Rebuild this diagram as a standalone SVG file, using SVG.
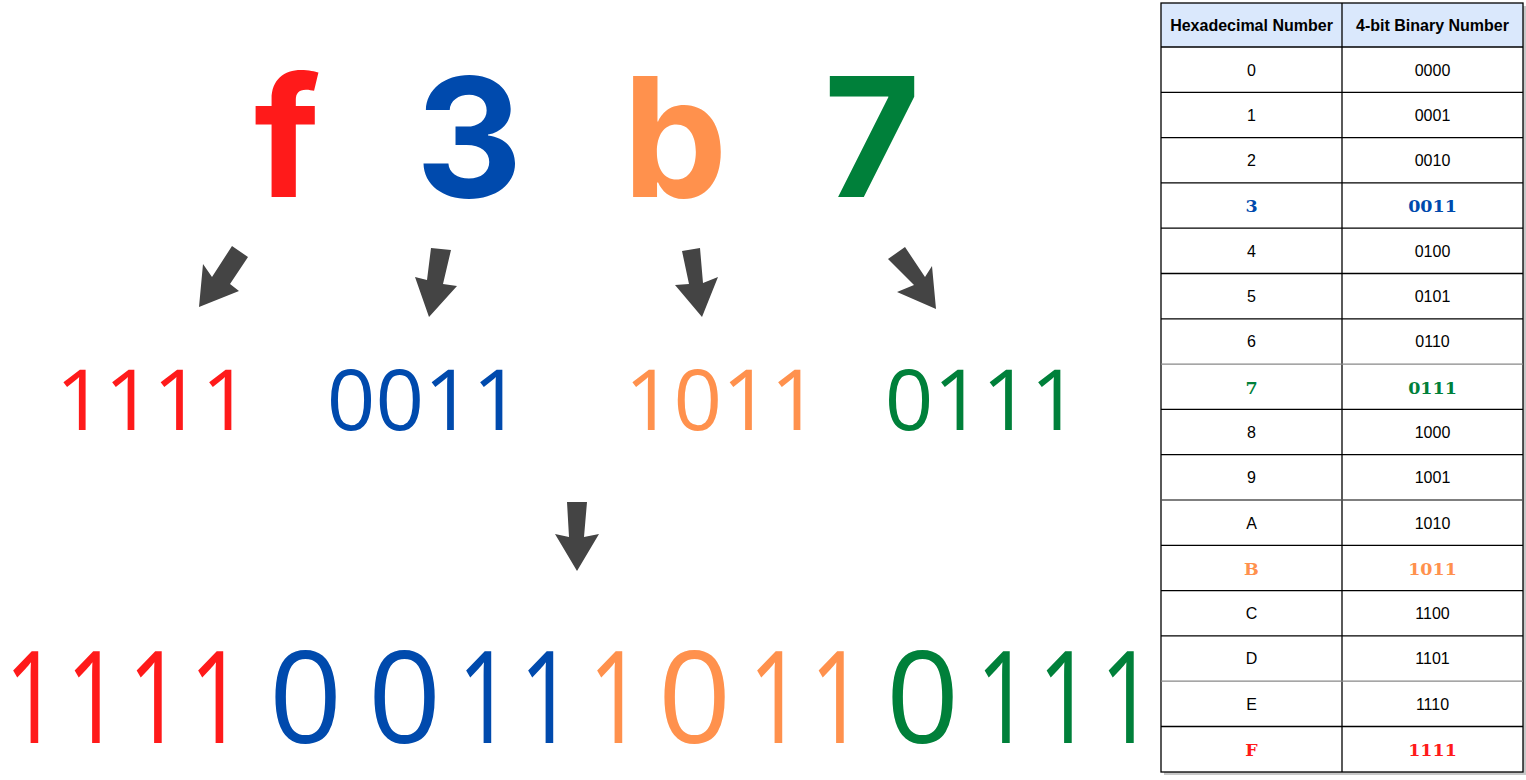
<svg xmlns="http://www.w3.org/2000/svg" width="1526" height="780" viewBox="0 0 1526 780">
<style>
.big{font-family:Inter,"Liberation Sans",sans-serif;font-weight:700;font-size:166px;text-anchor:middle}
.mid{font-family:"Open Sans","Noto Sans",sans-serif;font-size:85px;text-anchor:middle}
.bot{font-family:"Open Sans","Noto Sans",sans-serif;font-size:128px;text-anchor:middle}
.r{fill:#ff1a1a}.b{fill:#004aad}.o{fill:#ff914d}.g{fill:#00803a}
.arrow{fill:#444444}
.hd{font-family:"Liberation Sans",Arial,sans-serif;font-weight:bold;font-size:16px;text-anchor:middle;fill:#000}
.td{font-family:"Liberation Sans",Arial,sans-serif;font-size:16px;text-anchor:middle;fill:#000}
.tc{font-family:"DejaVu Serif","Liberation Serif",serif;font-weight:bold;font-size:17.5px;text-anchor:middle}
.grid{stroke:#000;stroke-width:1.3;fill:none}
</style>
<rect width="1526" height="780" fill="#ffffff"/>

<g id="hex-digits">
<text class="big r" x="287" y="197">f</text>
<text class="big b" x="469" y="197">3</text>
<text class="big o" x="675" y="197">b</text>
<text class="big g" x="872" y="197">7</text>
</g>

<g id="connectors">
<polygon class="arrow" points="232,246 248,257 230,284 239,291 199,307 203,264 212,277"/>
<polygon class="arrow" points="431,248 451,250 443,284 457,286 429,317 415,277 427,280"/>
<polygon class="arrow" points="682,251 700,248 703,283 718,277 702,317 675,285 689,284"/>
<polygon class="arrow" points="888,259 905,247 925,277 932,266 936,309 897,292 914,285"/>
<polygon class="arrow" points="567,502 587,502 584,537 599,534 577,571 555,534 569,537"/>
</g>

<g id="nibbles">
<text class="mid r" x="153" y="430">1111</text>
<text class="mid b" x="424" y="430">0011</text>
<text class="mid o" x="722" y="430">1011</text>
<text class="mid g" x="982" y="430">0111</text>
</g>

<g id="binary-result">
<text class="bot r" transform="translate(32,0) scale(0.75,1)" x="0" y="743">1</text>
<text class="bot r" transform="translate(93.5,0) scale(0.75,1)" x="0" y="743">1</text>
<text class="bot r" transform="translate(155.5,0) scale(0.75,1)" x="0" y="743">1</text>
<text class="bot r" transform="translate(217,0) scale(0.75,1)" x="0" y="743">1</text>
<text class="bot b" x="305.5" y="743">0</text>
<text class="bot b" x="404.5" y="743">0</text>
<text class="bot b" transform="translate(485,0) scale(0.75,1)" x="0" y="743">1</text>
<text class="bot b" transform="translate(547,0) scale(0.75,1)" x="0" y="743">1</text>
<text class="bot o" transform="translate(616,0) scale(0.75,1)" x="0" y="743">1</text>
<text class="bot o" x="694.5" y="743">0</text>
<text class="bot o" transform="translate(776,0) scale(0.75,1)" x="0" y="743">1</text>
<text class="bot o" transform="translate(837.5,0) scale(0.75,1)" x="0" y="743">1</text>
<text class="bot g" x="922.5" y="743">0</text>
<text class="bot g" transform="translate(1003.5,0) scale(0.75,1)" x="0" y="743">1</text>
<text class="bot g" transform="translate(1065.5,0) scale(0.75,1)" x="0" y="743">1</text>
<text class="bot g" transform="translate(1127.5,0) scale(0.75,1)" x="0" y="743">1</text>
</g>

<g id="table">
<rect x="1164" y="6" width="362" height="769" fill="#c8c8c8"/>
<rect x="1161" y="3" width="362" height="769" fill="#ffffff"/>
<rect x="1161" y="3" width="362" height="44" fill="#dae8fc"/>
<g class="grid">
<rect x="1161" y="3" width="362" height="769"/>
<line x1="1342" y1="3" x2="1342" y2="772"/>
<line x1="1161" y1="47" x2="1523" y2="47"/>
<line x1="1161" y1="92.3" x2="1523" y2="92.3"/>
<line x1="1161" y1="137.6" x2="1523" y2="137.6"/>
<line x1="1161" y1="182.9" x2="1523" y2="182.9"/>
<line x1="1161" y1="228.2" x2="1523" y2="228.2"/>
<line x1="1161" y1="273.5" x2="1523" y2="273.5"/>
<line x1="1161" y1="318.8" x2="1523" y2="318.8"/>
<line x1="1161" y1="364.1" x2="1523" y2="364.1" stroke="#888"/>
<line x1="1161" y1="409.4" x2="1523" y2="409.4"/>
<line x1="1161" y1="454.7" x2="1523" y2="454.7"/>
<line x1="1161" y1="500" x2="1523" y2="500" stroke="#555"/>
<line x1="1161" y1="545.3" x2="1523" y2="545.3"/>
<line x1="1161" y1="590.6" x2="1523" y2="590.6"/>
<line x1="1161" y1="635.9" x2="1523" y2="635.9"/>
<line x1="1161" y1="681.2" x2="1523" y2="681.2" stroke="#888"/>
<line x1="1161" y1="726.5" x2="1523" y2="726.5"/>
</g>
<text class="hd" x="1251.5" y="30.5">Hexadecimal Number</text>
<text class="hd" x="1432.5" y="30.5">4-bit Binary Number</text>
<text class="td" x="1251.5" y="75.5">0</text><text class="td" x="1432.5" y="75.5">0000</text>
<text class="td" x="1251.5" y="120.8">1</text><text class="td" x="1432.5" y="120.8">0001</text>
<text class="td" x="1251.5" y="166.1">2</text><text class="td" x="1432.5" y="166.1">0010</text>
<text class="tc b" x="1251.5" y="212">3</text><text class="tc b" x="1432.5" y="212">0011</text>
<text class="td" x="1251.5" y="256.7">4</text><text class="td" x="1432.5" y="256.7">0100</text>
<text class="td" x="1251.5" y="302">5</text><text class="td" x="1432.5" y="302">0101</text>
<text class="td" x="1251.5" y="347.3">6</text><text class="td" x="1432.5" y="347.3">0110</text>
<text class="tc g" x="1251.5" y="393.5">7</text><text class="tc g" x="1432.5" y="393.5">0111</text>
<text class="td" x="1251.5" y="437.9">8</text><text class="td" x="1432.5" y="437.9">1000</text>
<text class="td" x="1251.5" y="483.2">9</text><text class="td" x="1432.5" y="483.2">1001</text>
<text class="td" x="1251.5" y="528.5">A</text><text class="td" x="1432.5" y="528.5">1010</text>
<text class="tc o" x="1251.5" y="574.5">B</text><text class="tc o" x="1432.5" y="574.5">1011</text>
<text class="td" x="1251.5" y="619.1">C</text><text class="td" x="1432.5" y="619.1">1100</text>
<text class="td" x="1251.5" y="664.4">D</text><text class="td" x="1432.5" y="664.4">1101</text>
<text class="td" x="1251.5" y="709.7">E</text><text class="td" x="1432.5" y="709.7">1110</text>
<text class="tc r" x="1251.5" y="755.5">F</text><text class="tc r" x="1432.5" y="755.5">1111</text>
</g>
</svg>
